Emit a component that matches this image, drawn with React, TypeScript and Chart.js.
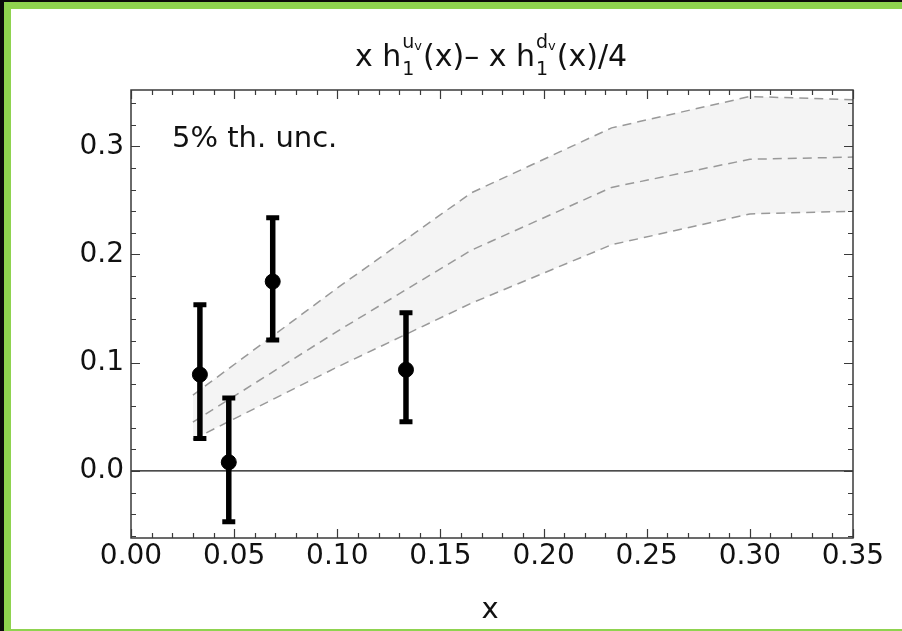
import React, { useEffect, useRef } from "react";
import { Chart, registerables } from "chart.js";

Chart.register(...registerables);

// Theory band: central value with 5% uncertainty envelope
const bandX = [0.03, 0.1, 0.165, 0.233, 0.3, 0.35];
const bandUpper = [0.07, 0.169, 0.257, 0.317, 0.346, 0.343];
const bandCentral = [0.045, 0.129, 0.204, 0.262, 0.288, 0.29];
const bandLower = [0.029, 0.096, 0.155, 0.209, 0.2375, 0.24];

// Extracted points with asymmetric errors
const dataX = [0.0334, 0.0474, 0.0687, 0.1333];
const dataY = [0.089, 0.008, 0.175, 0.0935];
const dataLow = [0.03, -0.047, 0.121, 0.0455];
const dataHigh = [0.1536, 0.0674, 0.234, 0.1462];

// Axis ticks
const xTicks = [0, 0.05, 0.1, 0.15, 0.2, 0.25, 0.3, 0.35];
const yTicks = [0, 0.1, 0.2, 0.3];
const xMinor = [
  0.01, 0.02, 0.03, 0.04, 0.06, 0.07, 0.08, 0.09, 0.11, 0.12, 0.13, 0.14,
  0.16, 0.17, 0.18, 0.19, 0.21, 0.22, 0.23, 0.24, 0.26, 0.27, 0.28, 0.29,
  0.31, 0.32, 0.33, 0.34,
];
const yMinor = [
  -0.06, -0.04, -0.02, 0.02, 0.04, 0.06, 0.08, 0.12, 0.14, 0.16, 0.18, 0.22,
  0.24, 0.26, 0.28, 0.32, 0.34,
];

const X_MIN = 0;
const X_MAX = 0.35;
const Y_MIN = -0.062;
const Y_MAX = 0.352;

const FONT = "'DejaVu Sans', Verdana, sans-serif";
const TEXT = "#111111";

const toPts = (xs: number[], ys: number[]) => xs.map((x, i) => ({ x, y: ys[i] }));

// Page decoration: dark edge, green frame, white panel
const backdrop = {
  id: "backdrop",
  beforeDraw(chart: any) {
    const { ctx, width, height } = chart;
    ctx.save();
    ctx.fillStyle = "#ffffff";
    ctx.fillRect(0, 0, width, height);
    ctx.fillStyle = "#0b0b0b";
    ctx.fillRect(0, 0, 4, height);
    ctx.fillRect(0, 0, width, 2);
    ctx.fillStyle = "#8fd34f";
    ctx.fillRect(4, 2, 7, height - 2);
    ctx.fillRect(4, 2, width - 4, 7);
    ctx.fillRect(4, height - 2, width - 4, 2);
    ctx.restore();
  },
};

// Vertical error bars with caps
const errorBars = {
  id: "errorBars",
  afterDatasetsDraw(chart: any) {
    const { ctx } = chart;
    const xs = chart.scales.x;
    const ys = chart.scales.y;
    ctx.save();
    ctx.strokeStyle = "#000";
    ctx.lineCap = "butt";
    dataX.forEach((xv, i) => {
      const px = xs.getPixelForValue(xv);
      const top = ys.getPixelForValue(dataHigh[i]);
      const bot = ys.getPixelForValue(dataLow[i]);
      ctx.lineWidth = 5.5;
      ctx.beginPath();
      ctx.moveTo(px, top);
      ctx.lineTo(px, bot);
      ctx.stroke();
      ctx.lineWidth = 5;
      ctx.beginPath();
      ctx.moveTo(px - 6.5, top);
      ctx.lineTo(px + 6.5, top);
      ctx.moveTo(px - 6.5, bot);
      ctx.lineTo(px + 6.5, bot);
      ctx.stroke();
    });
    ctx.restore();
  },
};

// Frame with inward ticks on all four sides, title and annotation
const frame = {
  id: "frame",
  afterDraw(chart: any) {
    const { ctx, chartArea: a } = chart;
    const xs = chart.scales.x;
    const ys = chart.scales.y;
    ctx.save();
    ctx.strokeStyle = "#3a3a3a";
    ctx.lineWidth = 1.5;
    ctx.strokeRect(a.left, a.top, a.right - a.left, a.bottom - a.top);
    ctx.lineWidth = 1.2;
    ctx.beginPath();
    const xt = (v: number, len: number) => {
      const p = Math.round(xs.getPixelForValue(v)) + 0.5;
      ctx.moveTo(p, a.bottom);
      ctx.lineTo(p, a.bottom - len);
      ctx.moveTo(p, a.top);
      ctx.lineTo(p, a.top + len);
    };
    const yt = (v: number, len: number) => {
      const p = Math.round(ys.getPixelForValue(v)) + 0.5;
      ctx.moveTo(a.left, p);
      ctx.lineTo(a.left + len, p);
      ctx.moveTo(a.right, p);
      ctx.lineTo(a.right - len, p);
    };
    xTicks.forEach((v) => xt(v, 9));
    xMinor.forEach((v) => xt(v, 5));
    yTicks.forEach((v) => yt(v, 9));
    yMinor.forEach((v) => yt(v, 5));
    ctx.stroke();

    ctx.fillStyle = TEXT;
    ctx.textBaseline = "alphabetic";

    // Title: x h_1^{u_v}(x)– x h_1^{d_v}(x)/4
    const F = 30;
    const S = 19;
    const SS = 13;
    const main = `${F}px ${FONT}`;
    const scr = `${S}px ${FONT}`;
    const sscr = `${SS}px ${FONT}`;
    type Piece = { t: string; kind: "main" | "stack"; sup?: string; sub?: string };
    const pieces: Piece[] = [
      { t: "x h", kind: "main" },
      { t: "", kind: "stack", sup: "u", sub: "1" },
      { t: "(x)\u2013 x h", kind: "main" },
      { t: "", kind: "stack", sup: "d", sub: "1" },
      { t: "(x)/4", kind: "main" },
    ];
    const widthOf = (p: Piece) => {
      if (p.kind === "main") {
        ctx.font = main;
        return ctx.measureText(p.t).width;
      }
      ctx.font = scr;
      const w1 = ctx.measureText(p.sup!).width;
      const w3 = ctx.measureText(p.sub!).width;
      ctx.font = sscr;
      const w2 = ctx.measureText("v").width;
      return Math.max(w1 + w2, w3) + 2;
    };
    const total = pieces.reduce((s, p) => s + widthOf(p), 0);
    let cx = 491 - total / 2;
    const base = 66;
    pieces.forEach((p) => {
      const w = widthOf(p);
      if (p.kind === "main") {
        ctx.font = main;
        ctx.fillText(p.t, cx, base);
      } else {
        ctx.font = scr;
        ctx.fillText(p.sup!, cx + 1, base - 18);
        const wu = ctx.measureText(p.sup!).width;
        ctx.fillText(p.sub!, cx + 1, base + 9);
        ctx.font = sscr;
        ctx.fillText("v", cx + 1 + wu, base - 16);
      }
      cx += w;
    });

    // Annotation inside the frame
    ctx.font = `29px ${FONT}`;
    ctx.fillText("5% th. unc.", a.left + 41, 147);

    // Horizontal axis title
    ctx.textAlign = "center";
    ctx.font = `29px ${FONT}`;
    ctx.fillText("x", 490, 618);
    ctx.restore();
  },
};

export default function App() {
  const ref = useRef<HTMLCanvasElement | null>(null);

  useEffect(() => {
    if (!ref.current) return;
    const dash = { borderColor: "#999999", borderWidth: 1.5, borderDash: [9, 6], pointRadius: 0, tension: 0 };
    const chart = new Chart(ref.current, {
      type: "scatter",
      data: {
        datasets: [
          {
            label: "data",
            data: toPts(dataX, dataY),
            backgroundColor: "#000",
            borderColor: "#000",
            pointRadius: 7.5,
            showLine: false,
            order: 0,
          } as any,
          {
            label: "upper",
            data: toPts(bandX, bandUpper),
            showLine: true,
            fill: { target: 3 },
            backgroundColor: "#f4f4f4",
            order: 2,
            ...dash,
          },
          {
            label: "central",
            data: toPts(bandX, bandCentral),
            showLine: true,
            fill: false,
            order: 1,
            ...dash,
          },
          {
            label: "lower",
            data: toPts(bandX, bandLower),
            showLine: true,
            fill: false,
            order: 1,
            ...dash,
          },
          {
            label: "zero",
            data: [
              { x: X_MIN, y: 0 },
              { x: X_MAX, y: 0 },
            ],
            showLine: true,
            fill: false,
            borderColor: "#111",
            borderWidth: 1.2,
            pointRadius: 0,
            order: 3,
          },
        ],
      },
      options: {
        animation: false,
        responsive: false,
        events: [],
        layout: { padding: { left: 0, right: 49, top: 90, bottom: 0 } },
        plugins: {
          legend: { display: false },
          tooltip: { enabled: false },
          title: { display: false },
        },
        scales: {
          x: {
            type: "linear",
            min: X_MIN,
            max: X_MAX,
            afterBuildTicks: (s: any) => {
              s.ticks = xTicks.map((v) => ({ value: v }));
            },
            afterFit: (s: any) => {
              s.height = 93;
            },
            ticks: {
              callback: (v: any) => Number(v).toFixed(2),
              font: { family: FONT, size: 28 },
              color: TEXT,
              padding: 2,
              maxRotation: 0,
              autoSkip: false,
            },
            grid: { display: false, drawTicks: false },
            border: { display: false },
          },
          y: {
            type: "linear",
            min: Y_MIN,
            max: Y_MAX,
            afterBuildTicks: (s: any) => {
              s.ticks = yTicks.map((v) => ({ value: v }));
            },
            afterFit: (s: any) => {
              s.width = 131;
            },
            ticks: {
              callback: (v: any) => Number(v).toFixed(1),
              font: { family: FONT, size: 28 },
              color: TEXT,
              padding: 7,
              autoSkip: false,
            },
            grid: { display: false, drawTicks: false },
            border: { display: false },
          },
        },
      } as any,
      plugins: [backdrop, errorBars, frame],
    });
    return () => chart.destroy();
  }, []);

  return (
    <div style={{ position: "fixed", left: 0, top: 0, width: 902, height: 631 }}>
      <canvas ref={ref} width={902} height={631} style={{ display: "block", width: 902, height: 631 }} />
    </div>
  );
}
